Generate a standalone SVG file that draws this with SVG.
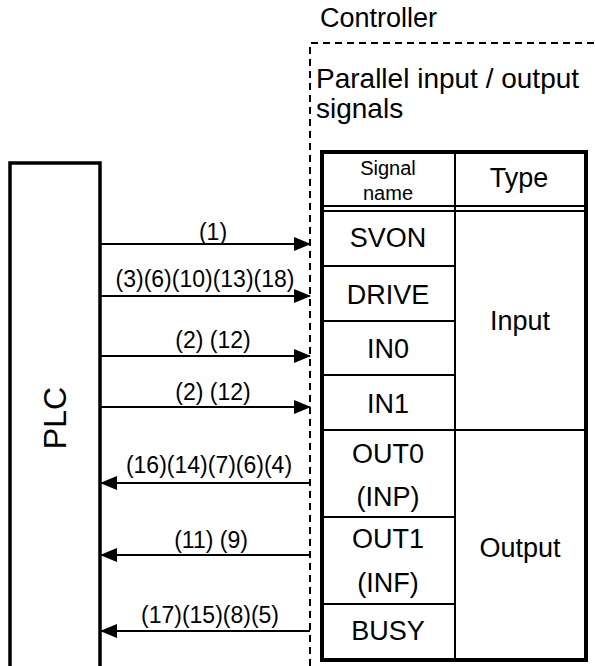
<svg xmlns="http://www.w3.org/2000/svg" width="595" height="666" viewBox="0 0 595 666">
<style>
text{font-family:"Liberation Sans",Arial,sans-serif;fill:#000}
.big{font-size:28px}
.cell{font-size:27px;text-anchor:middle}
.small{font-size:20px;text-anchor:middle}
.lbl{font-size:23px;text-anchor:middle}
.thin{stroke:#000;stroke-width:2;fill:none}
.thick{stroke:#000;stroke-width:4;fill:none}
.dash{stroke:#000;stroke-width:2;fill:none;stroke-dasharray:7 5}
.conn{stroke:#000;stroke-width:2;fill:none}
</style>
<defs>
<marker id="ah" markerWidth="17" markerHeight="14" refX="16" refY="7" orient="auto" markerUnits="userSpaceOnUse">
<path d="M0,0 L17,7 L0,14 Z" fill="#000"/>
</marker>
</defs>
<g id="controller">
<text class="big" x="320" y="27" style="font-size:27px">Controller</text>
<path class="dash" d="M310,666 L310,43 L595,43"/>
<text class="big" x="316" y="88">Parallel input / output</text>
<text class="big" x="316" y="118">signals</text>
</g>
<g id="plc">
<path d="M10,666 L10,163 L100,163 L100,666" stroke="#000" stroke-width="3.5" fill="none"/>
<text x="0" y="0" transform="translate(66,418) rotate(-90)" style="font-size:32px;text-anchor:middle">PLC</text>
</g>
<g id="table">
<rect class="thick" x="322" y="152" width="264" height="508"/>
<line class="thin" x1="455" y1="152" x2="455" y2="660"/>
<line class="thin" x1="322" y1="206" x2="586" y2="206"/>
<line class="thin" x1="322" y1="211" x2="586" y2="211"/>
<line class="thin" x1="322" y1="266" x2="455" y2="266"/>
<line class="thin" x1="322" y1="321" x2="455" y2="321"/>
<line class="thin" x1="322" y1="375" x2="455" y2="375"/>
<line class="thin" x1="322" y1="430" x2="586" y2="430"/>
<line class="thin" x1="322" y1="517" x2="455" y2="517"/>
<line class="thin" x1="322" y1="604" x2="455" y2="604"/>
<text class="small" x="388" y="175">Signal</text>
<text class="small" x="388" y="200">name</text>
<text class="cell" x="519" y="187">Type</text>
<text class="cell" x="388" y="247">SVON</text>
<text class="cell" x="388" y="304">DRIVE</text>
<text class="cell" x="388" y="358">IN0</text>
<text class="cell" x="388" y="413">IN1</text>
<text class="cell" x="520" y="330">Input</text>
<text class="cell" x="388" y="463">OUT0</text>
<text class="cell" x="388" y="506">(INP)</text>
<text class="cell" x="388" y="548">OUT1</text>
<text class="cell" x="388" y="592">(INF)</text>
<text class="cell" x="388" y="640">BUSY</text>
<text class="cell" x="520" y="557">Output</text>
</g>
<g id="connectors">
<line class="conn" x1="101" y1="244" x2="310" y2="244" marker-end="url(#ah)"/>
<line class="conn" x1="101" y1="296" x2="310" y2="296" marker-end="url(#ah)"/>
<line class="conn" x1="101" y1="356" x2="310" y2="356" marker-end="url(#ah)"/>
<line class="conn" x1="101" y1="407" x2="310" y2="407" marker-end="url(#ah)"/>
<line class="conn" x1="310" y1="483" x2="101" y2="483" marker-end="url(#ah)"/>
<line class="conn" x1="310" y1="555" x2="101" y2="555" marker-end="url(#ah)"/>
<line class="conn" x1="310" y1="631" x2="101" y2="631" marker-end="url(#ah)"/>
<text class="lbl" x="213" y="240">(1)</text>
<text class="lbl" x="205" y="287">(3)(6)(10)(13)(18)</text>
<text class="lbl" x="213" y="348">(2) (12)</text>
<text class="lbl" x="213" y="400">(2) (12)</text>
<text class="lbl" x="209" y="473">(16)(14)(7)(6)(4)</text>
<text class="lbl" x="211" y="548">(11) (9)</text>
<text class="lbl" x="210" y="623">(17)(15)(8)(5)</text>
</g>
</svg>
